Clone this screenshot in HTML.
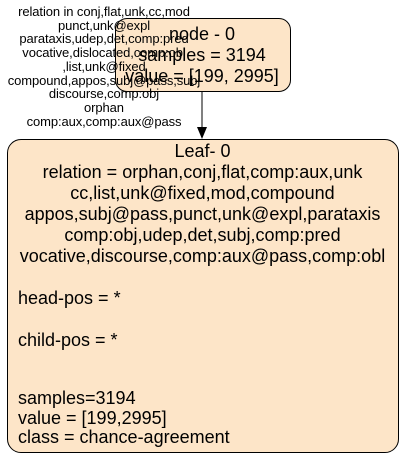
<!DOCTYPE html>
<html><head><style>
body{margin:0;width:403px;height:459px;background:#fff;position:relative;font-family:"Liberation Sans",sans-serif;overflow:hidden}
.t{position:absolute;white-space:nowrap;line-height:1}
.el{font-size:13px;left:0;width:208px;text-align:center;color:#000;letter-spacing:-0.1px}
.n{font-size:18px;color:#000}
.c{left:7px;width:391px;text-align:center}
.l{left:18px}
</style></head><body>
<div style="position:absolute;left:115px;top:18px;width:174px;height:72px;background:#fde5c8;border:1px solid #000;border-radius:12px"></div>
<div style="position:absolute;left:7px;top:139px;width:390px;height:312px;background:#fde5c8;border:1px solid #000;border-radius:14px"></div>
<svg style="position:absolute;left:0;top:0" width="403" height="459">
<line x1="202" y1="91" x2="202" y2="128" stroke="#000" stroke-width="1"/>
<polygon points="197,127 207,127 202,139" fill="#000"/>
</svg>
<div class="t n" style="left:115px;width:174px;text-align:center;top:24px;line-height:21px">node - 0<br>samples = 3194<br>value = [199, 2995]</div>
<div class="t el" style="top:5px;line-height:13.7px">relation in conj,flat,unk,cc,mod<br>punct,unk@expl<br>parataxis,udep,det,comp:pred<br>vocative,dislocated,comp:obl<br>,list,unk@fixed<br>compound,appos,subj@pass,subj<br>discourse,comp:obj<br>orphan<br>comp:aux,comp:aux@pass</div>
<div class="t n c" style="top:141px;line-height:21px">Leaf- 0<br>relation = orphan,conj,flat,comp:aux,unk<br>cc,list,unk@fixed,mod,compound<br>appos,subj@pass,punct,unk@expl,parataxis<br>comp:obj,udep,det,subj,comp:pred<br>vocative,discourse,comp:aux@pass,comp:obl</div>
<div class="t n l" style="top:289px">head-pos = *</div>
<div class="t n l" style="top:331px">child-pos = *</div>
<div class="t n l" style="top:389px;line-height:19.5px">samples=3194<br>value = [199,2995]<br>class = chance-agreement</div>
</body></html>
